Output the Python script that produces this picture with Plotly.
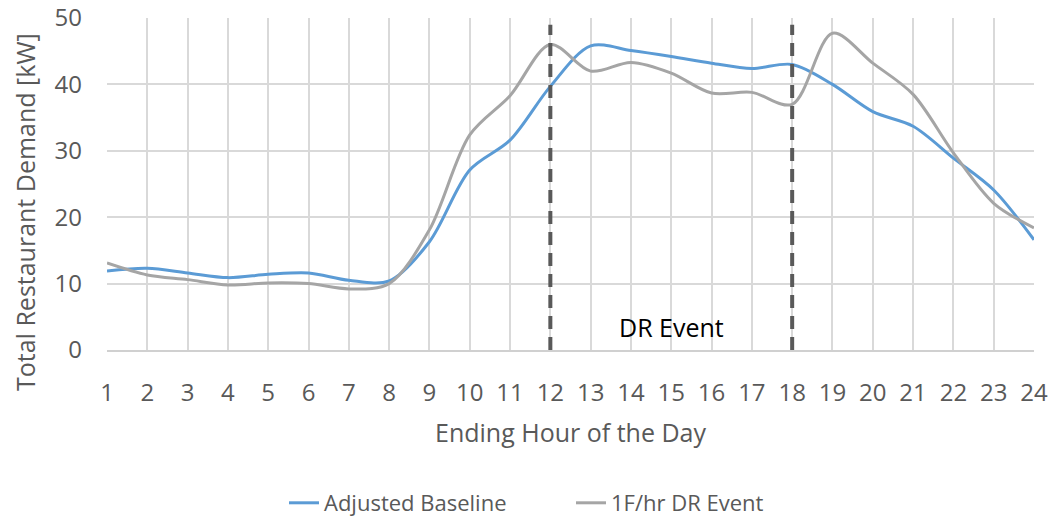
import plotly.graph_objects as go

hours = list(range(1, 25))
adjusted_baseline = [11.9, 12.3, 11.6, 10.9, 11.4, 11.6, 10.5, 10.4, 16.3, 27.1, 31.6, 39.7,
                     45.8, 45.1, 44.2, 43.2, 42.4, 43.0, 40.0, 35.9, 33.7, 28.9, 24.1, 16.6]
dr_event = [13.1, 11.3, 10.6, 9.8, 10.1, 10.0, 9.2, 10.0, 18.1, 32.4, 38.3, 46.0,
            42.0, 43.3, 41.7, 38.7, 38.8, 37.0, 47.7, 43.2, 38.5, 29.7, 22.1, 18.4]
dr_bounds = [12, 18]
dr_top = 49
y_ticks = [0, 10, 20, 30, 40, 50]

FONT = "Open Sans"
GREY = "#595959"
fig = go.Figure()
fig.add_trace(go.Scatter(x=hours, y=adjusted_baseline, mode="lines", name="Adjusted Baseline",
                         line=dict(color="#5b9bd5", width=3, shape="spline", smoothing=0.9)))
fig.add_trace(go.Scatter(x=hours, y=dr_event, mode="lines", name="1F/hr DR Event",
                         line=dict(color="#a5a5a5", width=3, shape="spline", smoothing=0.9)))

for b in dr_bounds:
    fig.add_shape(type="line", x0=b, x1=b, y0=0, y1=dr_top, xref="x", yref="y",
                  line=dict(color=GREY, width=4, dash="13px,8px"))

fig.add_annotation(x=(dr_bounds[0] + dr_bounds[1]) / 2, y=3.5, text="DR Event", showarrow=False,
                   font=dict(family=FONT, size=25, color="#000000"))

# axis titles
fig.add_annotation(xref="paper", yref="paper", x=(570 - 107) / 927, y=-(432 - 350) / 332,
                   text="Ending Hour of the Day", showarrow=False,
                   xanchor="center", yanchor="middle",
                   font=dict(family=FONT, size=25, color=GREY))
fig.add_annotation(xref="paper", yref="paper", x=-(107 - 25) / 927, y=(350 - 212) / 332,
                   text="Total Restaurant Demand [kW]", showarrow=False, textangle=-90,
                   xanchor="center", yanchor="middle",
                   font=dict(family=FONT, size=25, color=GREY))

fig.update_layout(
    width=1051, height=516,
    margin=dict(l=107, r=17, t=18, b=166, autoexpand=False),
    paper_bgcolor="white", plot_bgcolor="white",
    font=dict(family=FONT, color=GREY, size=22),
    showlegend=True,
    legend=dict(orientation="h", x=(284 - 107) / 927, y=-(503 - 350) / 332,
                xanchor="left", yanchor="middle",
                font=dict(family=FONT, size=22, color=GREY), entrywidth=242),
    xaxis=dict(range=[1, 24], tickmode="array", tickvals=hours, ticktext=[str(h) for h in hours],
               showgrid=True, gridcolor="#d9d9d9", gridwidth=2, zeroline=False,
               showline=True, linecolor="#d0d0d0", linewidth=2, automargin=False,
               ticks="", tickfont=dict(size=24), ticklabelstandoff=20),
    yaxis=dict(range=[0, 50], tickvals=y_ticks, showgrid=True, gridcolor="#d9d9d9", gridwidth=2,
               zeroline=False, showline=False, automargin=False,
               ticks="", tickfont=dict(size=24), ticklabelstandoff=24),
)

fig.write_html("out.html")
